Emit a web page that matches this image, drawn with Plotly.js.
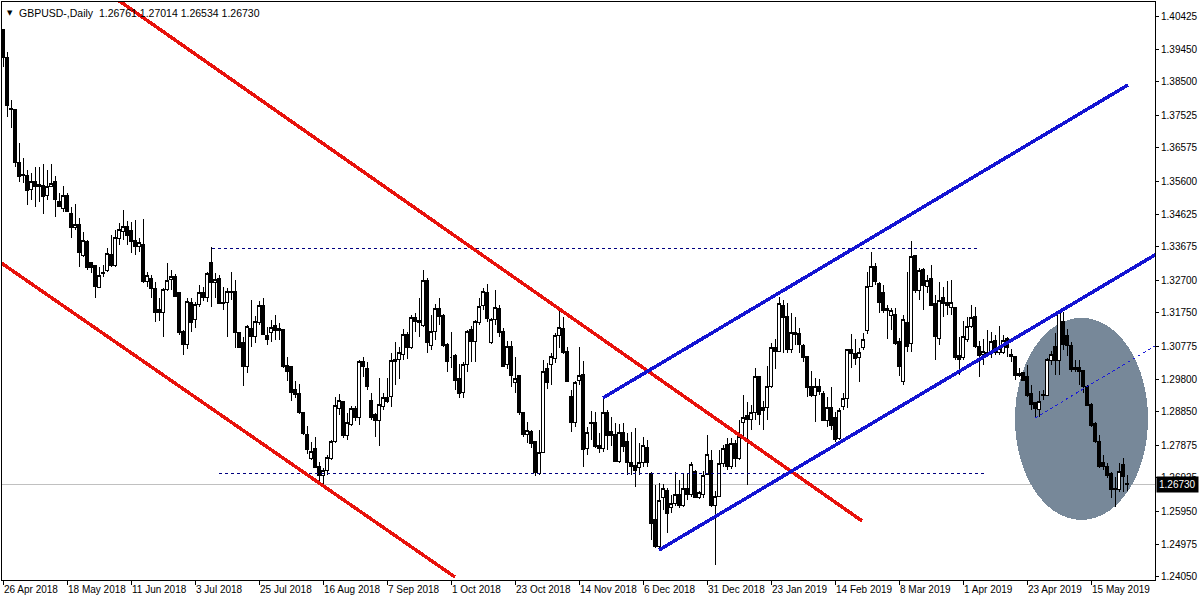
<!DOCTYPE html>
<html><head><meta charset="utf-8">
<script src="https://cdn.plot.ly/plotly-3.0.1.min.js"></script>
<style>html,body{margin:0;padding:0;background:#fff}#chart{width:1200px;height:600px}
#chart svg path{shape-rendering:crispEdges}</style>
</head><body><div id="chart"></div>
<script>
// Daily GBPUSD candles (first bar 26 Apr 2018, last bar 28 May 2019)
const openP = [
1.4002,1.3920,1.3771,1.3768,1.3613,1.3580,1.3577,1.3536,1.3560,1.3551,
1.3548,1.3519,1.3545,1.3560,1.3501,1.3481,1.3519,1.3466,1.3425,1.3434,
1.3341,1.3382,1.3321,1.3312,1.3250,1.3291,1.3297,1.3346,1.3312,1.3393,
1.3411,1.3426,1.3414,1.3385,1.3370,1.3373,1.3265,1.3276,1.3247,1.3183,
1.3177,1.3244,1.3273,1.3282,1.3233,1.3119,1.3081,1.3206,1.3154,1.3198,
1.3233,1.3218,1.3323,1.3262,1.3276,1.3206,1.3206,1.3233,1.3238,1.3116,
1.3087,1.3017,1.3130,1.3104,1.3145,1.3195,1.3107,1.3116,1.3139,1.3130,
1.3127,1.3020,1.3017,1.2949,1.2940,1.2882,1.2820,1.2750,1.2777,1.2724,
1.2700,1.2715,1.2750,1.2797,1.2896,1.2914,1.2817,1.2847,1.2896,1.2870,
1.3031,1.3011,1.2917,1.2876,1.2861,1.2902,1.2928,1.2929,1.3031,1.3037,
1.3052,1.3110,1.3072,1.3162,1.3151,1.3139,1.3268,1.3078,1.3119,1.3186,
1.3168,1.3081,1.3043,1.3049,1.2984,1.2943,1.3023,1.3127,1.3090,1.3145,
1.3195,1.3233,1.3087,1.3154,1.3186,1.3119,1.3023,1.3075,1.2972,1.2990,
1.2882,1.2818,1.2829,1.2797,1.2706,1.2765,1.3011,1.3023,1.3040,1.3107,
1.3130,1.3063,1.2929,1.2853,1.2978,1.2993,1.2777,1.2855,1.2855,1.2788,
1.2777,1.2882,1.2829,1.2818,1.2741,1.2826,1.2797,1.2736,1.2727,1.2721,
1.2736,1.2782,1.2706,1.2569,1.2490,1.2636,1.2654,1.2604,1.2618,1.2642,
1.2610,1.2662,1.2642,1.2712,1.2636,1.2642,1.2703,1.2744,1.2610,1.2639,
1.2733,1.2791,1.2724,1.2794,1.2750,1.2855,1.2873,1.2864,1.2882,1.2987,
1.2899,1.2899,1.2958,1.3072,1.3063,1.3195,1.3165,1.3066,1.3116,1.3113,
1.3078,1.3046,1.2958,1.2934,1.2958,1.2940,1.2861,1.2899,1.2870,1.2806,
1.2902,1.2925,1.3066,1.3055,1.3043,1.3072,1.3122,1.3253,1.3309,1.3259,
1.3233,1.3186,1.3168,1.3171,1.3090,1.2975,1.3145,1.3084,1.3341,1.3241,
1.3300,1.3253,1.3276,1.3201,1.3101,1.3218,1.3206,1.3189,1.3189,1.3049,
1.3043,1.3098,1.3136,1.3163,1.3075,1.3052,1.3052,1.3058,1.3093,1.3058,
1.3060,1.3101,1.3052,1.3046,1.2996,1.2999,1.2987,1.2940,1.2911,1.2893,
1.2932,1.2932,1.3034,1.3075,1.3034,1.3148,1.3107,1.3078,1.3014,1.3014,
1.3005,1.2958,1.2908,1.2850,1.2797,1.2736,1.2724,1.2706,1.2662,1.2657,
1.2730,1.26761];
const highP = [
1.4005,1.3937,1.3797,1.3770,1.3671,1.3627,1.3592,1.3583,1.3601,1.3601,
1.3610,1.3592,1.3610,1.3575,1.3525,1.3545,1.3525,1.3484,1.3493,1.3452,
1.3411,1.3387,1.3323,1.3312,1.3309,1.3314,1.3364,1.3402,1.3417,1.3437,
1.3475,1.3443,1.3440,1.3446,1.3393,1.3449,1.3294,1.3285,1.3265,1.3218,
1.3247,1.3320,1.3300,1.3288,1.3233,1.3125,1.3218,1.3218,1.3206,1.3256,
1.3250,1.3294,1.3367,1.3291,1.3285,1.3250,1.3247,1.3294,1.3270,1.3119,
1.3104,1.3139,1.3212,1.3165,1.3209,1.3218,1.3133,1.3154,1.3168,1.3145,
1.3127,1.3046,1.3017,1.2975,1.2966,1.2882,1.2844,1.2797,1.2812,1.2739,
1.2721,1.2759,1.2803,1.2929,1.2937,1.2914,1.2882,1.2902,1.2902,1.3037,
1.3046,1.3031,1.2940,1.2882,1.2984,1.2940,1.2984,1.3058,1.3090,1.3075,
1.3127,1.3119,1.3168,1.3174,1.3218,1.3300,1.3276,1.3168,1.3200,1.3218,
1.3171,1.3087,1.3119,1.3055,1.3025,1.3031,1.3125,1.3136,1.3154,1.3218,
1.3247,1.3259,1.3160,1.3241,1.3198,1.3130,1.3093,1.3093,1.3046,1.2993,
1.2885,1.2855,1.2832,1.2797,1.2832,1.3037,1.3028,1.3057,1.3116,1.3183,
1.3163,1.3075,1.2949,1.2975,1.3075,1.3034,1.2841,1.2888,1.2885,1.2823,
1.2929,1.2890,1.2870,1.2853,1.2850,1.2853,1.2823,1.2826,1.2838,1.2794,
1.2812,1.2803,1.2709,1.2671,1.2677,1.2674,1.2662,1.2642,1.2709,1.2686,
1.2706,1.2703,1.2738,1.2715,1.2654,1.2712,1.2817,1.2774,1.2654,1.2774,
1.2788,1.2809,1.2809,1.2803,1.2861,1.2934,1.2914,1.2905,1.3014,1.2990,
1.2917,1.3020,1.3087,1.3098,1.3221,1.3212,1.3203,1.3174,1.3163,1.3130,
1.3084,1.3046,1.3005,1.2984,1.2981,1.2946,1.2929,1.2958,1.2885,1.2896,
1.2940,1.3066,1.3113,1.3098,1.3072,1.3116,1.3294,1.3352,1.3320,1.3265,
1.3256,1.3198,1.3189,1.3189,1.3101,1.3168,1.3294,1.3384,1.3341,1.3306,
1.3306,1.3285,1.3314,1.3227,1.3265,1.3250,1.3268,1.3270,1.3189,1.3104,
1.3151,1.3163,1.3198,1.3192,1.3093,1.3098,1.3125,1.3119,1.3110,1.3136,
1.3110,1.3104,1.3069,1.3046,1.3014,1.3002,1.3023,1.2964,1.2914,1.2946,
1.2949,1.3043,1.3063,1.3116,1.3180,1.3177,1.3128,1.3090,1.3037,1.3037,
1.3008,1.2964,1.2911,1.2855,1.2818,1.2759,1.2736,1.2709,1.2695,1.2736,
1.2750,1.27014];
const lowP = [
1.3893,1.3747,1.3715,1.3601,1.3557,1.3554,1.3490,1.3504,1.3484,1.3499,
1.3463,1.3504,1.3542,1.3455,1.3484,1.3469,1.3472,1.3393,1.3417,1.3309,
1.3338,1.3300,1.3291,1.3218,1.3247,1.3279,1.3294,1.3310,1.3309,1.3373,
1.3387,1.3373,1.3349,1.3344,1.3352,1.3262,1.3250,1.3218,1.3148,1.3151,
1.3104,1.3238,1.3241,1.3221,1.3110,1.3052,1.3069,1.3119,1.3130,1.3192,
1.3209,1.3206,1.3192,1.3218,1.3203,1.3183,1.3104,1.3212,1.3072,1.3072,
1.2961,1.2999,1.3075,1.3087,1.3139,1.3110,1.3081,1.3090,1.3095,1.3095,
1.3014,1.2975,1.2917,1.2926,1.2879,1.2817,1.2763,1.2744,1.2721,1.2671,
1.2671,1.2700,1.2744,1.2795,1.2876,1.2809,1.2803,1.2844,1.2859,1.2847,
1.2987,1.2949,1.2861,1.2812,1.2785,1.2891,1.2911,1.2900,1.2963,1.2981,
1.3037,1.3040,1.3069,1.3119,1.3104,1.3133,1.3057,1.3066,1.3095,1.3139,
1.3075,1.3002,1.3014,1.2949,1.2926,1.2926,1.3002,1.3031,1.3031,1.3139,
1.3183,1.3148,1.3084,1.3139,1.3104,1.3017,1.3011,1.2958,1.2940,1.2876,
1.2812,1.2794,1.2779,1.2698,1.2700,1.2765,1.2952,1.2964,1.3028,1.3072,
1.3055,1.2972,1.2826,1.2841,1.2964,1.2724,1.2759,1.2803,1.2779,1.2765,
1.2768,1.2774,1.2785,1.2739,1.2736,1.2768,1.2700,1.2700,1.2665,1.2700,
1.2724,1.2724,1.2510,1.2487,1.2484,1.2598,1.2531,1.2589,1.2610,1.2604,
1.2607,1.2627,1.2636,1.2633,1.2630,1.2633,1.2700,1.2607,1.2437,1.2636,
1.2724,1.2715,1.2718,1.2724,1.2744,1.2812,1.2671,1.2832,1.2861,1.2847,
1.2832,1.2861,1.2955,1.3011,1.3060,1.3057,1.3057,1.3057,1.3081,1.3057,
1.3031,1.2929,1.2929,1.2855,1.2934,1.2858,1.2841,1.2832,1.2797,1.2803,
1.2890,1.2896,1.3014,1.3023,1.2972,1.3066,1.3113,1.3250,1.3256,1.3174,
1.3174,1.3098,1.3125,1.3081,1.2990,1.2963,1.3060,1.3060,1.3233,1.3212,
1.3183,1.3233,1.3195,1.3037,1.3081,1.3163,1.3168,1.3168,1.3037,1.2993,
1.3037,1.3090,1.3130,1.3072,1.2987,1.3023,1.3046,1.3043,1.3052,1.3052,
1.3055,1.3046,1.3031,1.2978,1.2987,1.2975,1.2929,1.2890,1.2870,1.2870,
1.2920,1.2932,1.3023,1.2993,1.2993,1.3066,1.3049,1.3002,1.3002,1.2964,
1.2940,1.2902,1.2841,1.2794,1.2721,1.2715,1.2692,1.2633,1.2607,1.2651,
1.2651,1.26534];
const closeP = [
1.3920,1.3782,1.3768,1.3613,1.3572,1.3575,1.3533,1.3560,1.3545,1.3545,
1.3516,1.3545,1.3554,1.3507,1.3487,1.3519,1.3472,1.3425,1.3434,1.3350,
1.3387,1.3306,1.3306,1.3253,1.3285,1.3294,1.3349,1.3312,1.3396,1.3417,
1.3426,1.3402,1.3382,1.3370,1.3379,1.3265,1.3285,1.3247,1.3177,1.3177,
1.3244,1.3268,1.3282,1.3221,1.3116,1.3081,1.3209,1.3145,1.3198,1.3233,
1.3218,1.3291,1.3262,1.3273,1.3203,1.3203,1.3238,1.3238,1.3116,1.3072,
1.3017,1.3136,1.3104,1.3148,1.3195,1.3110,1.3098,1.3133,1.3124,1.3124,
1.3017,1.3002,1.2943,1.2937,1.2882,1.2823,1.2774,1.2768,1.2721,1.2700,
1.2715,1.2753,1.2797,1.2905,1.2917,1.2817,1.2853,1.2896,1.2870,1.3031,
1.3017,1.2958,1.2870,1.2861,1.2908,1.2928,1.2914,1.3034,1.3037,1.3058,
1.3110,1.3072,1.3162,1.3148,1.3145,1.3270,1.3087,1.3119,1.3186,1.3165,
1.3078,1.3031,1.3043,1.2978,1.2940,1.3023,1.3119,1.3092,1.3148,1.3192,
1.3238,1.3157,1.3154,1.3189,1.3116,1.3017,1.3075,1.2990,1.2984,1.2882,
1.2818,1.2832,1.2794,1.2709,1.2765,1.3002,1.2970,1.3046,1.3107,1.3133,
1.3060,1.2975,1.2853,1.2972,1.2990,1.2774,1.2826,1.2850,1.2785,1.2777,
1.2882,1.2815,1.2815,1.2741,1.2826,1.2785,1.2736,1.2724,1.2715,1.2736,
1.2788,1.2736,1.2560,1.2490,1.2627,1.2660,1.2589,1.2616,1.2642,1.2610,
1.2662,1.2642,1.2730,1.2636,1.2648,1.2700,1.2759,1.2610,1.2639,1.2733,
1.2777,1.2724,1.2794,1.2750,1.2812,1.2870,1.2864,1.2882,1.2987,1.2876,
1.2890,1.2960,1.3072,1.3063,1.3201,1.3160,1.3066,1.3116,1.3110,1.3081,
1.3043,1.2955,1.2932,1.2958,1.2946,1.2861,1.2899,1.2844,1.2803,1.2890,
1.2923,1.3066,1.3055,1.3040,1.3058,1.3098,1.3253,1.3309,1.3265,1.3206,
1.3180,1.3180,1.3180,1.3084,1.3017,1.3154,1.3075,1.3338,1.3241,1.3297,
1.3256,1.3270,1.3195,1.3104,1.3212,1.3201,1.3195,1.3206,1.3043,1.3037,
1.3104,1.3136,1.3160,1.3075,1.3049,1.3063,1.3060,1.3090,1.3058,1.3069,
1.3095,1.3072,1.3046,1.2990,1.2990,1.2978,1.2934,1.2908,1.2896,1.2914,
1.2937,1.3037,1.3052,1.3034,1.3177,1.3081,1.3078,1.3008,1.3008,1.3002,
1.2958,1.2905,1.2844,1.2797,1.2724,1.2724,1.2700,1.2657,1.2657,1.2712,
1.2695,1.26730];

const tickDates = ['2018-04-26','2018-05-18','2018-06-11','2018-07-03','2018-07-25','2018-08-16','2018-09-07','2018-10-01','2018-10-23','2018-11-14','2018-12-06','2018-12-31','2019-01-23','2019-02-14','2019-03-08','2019-04-01','2019-04-23','2019-05-15'];
const tickLabels = ['26 Apr 2018','18 May 2018','11 Jun 2018','3 Jul 2018','25 Jul 2018','16 Aug 2018','7 Sep 2018','1 Oct 2018','23 Oct 2018','14 Nov 2018','6 Dec 2018','31 Dec 2018','23 Jan 2019','14 Feb 2019','8 Mar 2019','1 Apr 2019','23 Apr 2019','15 May 2019'];
const priceTicks = [1.40425,1.39450,1.38500,1.37525,1.36575,1.35600,1.34625,1.33675,1.32700,1.31750,1.30775,1.29800,1.28850,1.27875,1.26925,1.25950,1.24975,1.24050];
const lastBar = {open:1.26761, high:1.27014, low:1.26534, close:1.26730};

// chart objects (bar index on the category axis, price)
const redUpper = [20, 1.4161, 214.75, 1.2566];
const redLower = [-0.75, 1.3323, 113, 1.2402];
const blueUpper = [150, 1.2926, 281.25, 1.3841];
const blueLower = [164, 1.2481, 290, 1.3358];
const blueDashed = [258, 1.2867, 290, 1.3092];
const levelHigh = [52.25, 243.5, 1.3364];
const levelLow = [54, 245.5, 1.2704];
const ellipseBox = [253, 1.3160, 286.25, 1.2569];

function tradingDays(startISO, n) {
  const out = [];
  const d = new Date(startISO + 'T00:00:00Z');
  while (out.length < n) {
    const wd = d.getUTCDay();
    const md = d.toISOString().slice(5, 10);
    if (wd !== 0 && wd !== 6 && md !== '12-25' && md !== '01-01') out.push(d.toISOString().slice(0, 10));
    d.setUTCDate(d.getUTCDate() + 1);
  }
  return out;
}
const dates = tradingDays('2018-04-26', openP.length);

const trace = {
  type: 'candlestick', x: dates, open: openP, high: highP, low: lowP, close: closeP,
  increasing: {line: {color: '#000000', width: 1}, fillcolor: '#ffffff'},
  decreasing: {line: {color: '#000000', width: 1}, fillcolor: '#000000'},
  whiskerwidth: 0, hoverinfo: 'skip', showlegend: false
};

function seg(a, color, width, dash, layer) {
  return {type: 'line', xref: 'x', yref: 'y', x0: a[0], y0: a[1], x1: a[2], y1: a[3],
    line: {color: color, width: width, dash: dash || 'solid'}, layer: layer || 'above'};
}
const shapes = [
  {type: 'circle', xref: 'x', yref: 'y', x0: ellipseBox[0], y0: ellipseBox[1], x1: ellipseBox[2], y1: ellipseBox[3],
   fillcolor: '#778899', line: {width: 0}, layer: 'below'},
  {type: 'line', xref: 'paper', yref: 'y', x0: 0, x1: 1, y0: lastBar.close, y1: lastBar.close,
   line: {color: '#c0c0c0', width: 1}, layer: 'below'},
  {type: 'line', xref: 'x', yref: 'y', x0: levelHigh[0], x1: levelHigh[1], y0: levelHigh[2], y1: levelHigh[2],
   line: {color: '#000080', width: 1, dash: '3px,3px'}, layer: 'above'},
  {type: 'line', xref: 'x', yref: 'y', x0: levelLow[0], x1: levelLow[1], y0: levelLow[2], y1: levelLow[2],
   line: {color: '#000080', width: 1, dash: '3px,3px'}, layer: 'above'},
  seg(redUpper, '#e8120c', 3.5),
  seg(redLower, '#e8120c', 3.5),
  seg(blueUpper, '#1414d2', 3.5),
  seg(blueLower, '#1414d2', 3.5),
  seg(blueDashed, '#1a1ad8', 1, '3px,3px')
];

const font = {family: 'Liberation Sans, Arial, sans-serif', size: 10, color: '#000'};
const layout = {
  width: 1200, height: 600,
  margin: {l: 2, r: 45, t: 2, b: 20},
  paper_bgcolor: '#ffffff', plot_bgcolor: '#ffffff',
  font: font, showlegend: false, boxgap: 0.25, dragmode: false,
  xaxis: {
    type: 'category', range: [-0.25, 288], rangeslider: {visible: false},
    tickmode: 'array', tickvals: tickDates, ticktext: tickLabels, tickangle: 0,
    ticks: 'outside', ticklen: 4, tickcolor: '#000', tickwidth: 1,
    ticklabelposition: 'outside right', tickfont: font,
    showgrid: false, zeroline: false, showline: true, mirror: true, linecolor: '#000', linewidth: 1
  },
  yaxis: {
    side: 'right', range: [1.23934, 1.40835],
    tickmode: 'array', tickvals: priceTicks, ticktext: priceTicks.map(v => v.toFixed(5)),
    ticks: 'outside', ticklen: 3, tickcolor: '#000', tickwidth: 1, tickfont: font,
    showgrid: false, zeroline: false, showline: true, mirror: true, linecolor: '#000', linewidth: 1
  },
  shapes: shapes,
  annotations: [
    {xref: 'paper', yref: 'paper', x: 0, y: 1, xanchor: 'left', yanchor: 'top', xshift: 3, yshift: -5,
     text: '▼', showarrow: false, font: {family: 'DejaVu Sans', size: 7, color: '#000'}},
    {xref: 'paper', yref: 'paper', x: 0, y: 1, xanchor: 'left', yanchor: 'top', xshift: 15, yshift: -3,
     text: 'GBPUSD-,Daily  ' + [lastBar.open, lastBar.high, lastBar.low, lastBar.close].map(v => v.toFixed(5)).join(' '),
     showarrow: false, font: {family: 'Liberation Sans, Arial, sans-serif', size: 10.5, color: '#000'}},
    {xref: 'paper', yref: 'y', x: 1, y: lastBar.close, xanchor: 'left', yanchor: 'middle', xshift: 1,
     text: lastBar.close.toFixed(5), showarrow: false, bgcolor: '#000000', borderpad: 2,
     font: {family: 'Liberation Sans, Arial, sans-serif', size: 10, color: '#ffffff'}}
  ]
};
Plotly.newPlot('chart', [trace], layout, {displayModeBar: false, staticPlot: true});
</script>
</body></html>
